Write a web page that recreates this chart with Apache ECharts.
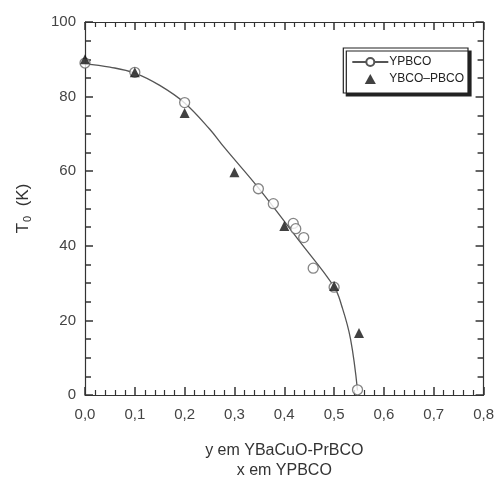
<!DOCTYPE html>
<html><head><meta charset="utf-8">
<script src="https://cdn.jsdelivr.net/npm/echarts@6/dist/echarts.min.js"></script>
<style>html,body{margin:0;padding:0;background:#fff}#c{width:497px;height:486px}</style>
</head><body><div id="c"></div>
<script>
// YPBCO measured points (x, T0)
const ypbcoX = [0, 0.1, 0.2, 0.348, 0.378, 0.418, 0.423, 0.439, 0.458, 0.5, 0.547];
const ypbcoT = [89.0, 86.5, 78.4, 55.3, 51.3, 46.0, 44.6, 42.2, 34.0, 28.9, 1.4];
// YBCO-PBCO points (y, T0)
const ybcoX = [0, 0.1, 0.2, 0.3, 0.4, 0.5, 0.55];
const ybcoT = [90.0, 86.5, 75.6, 59.7, 45.3, 29.2, 16.6];
// guide curve
const curveX = [0, 0.05, 0.1, 0.15, 0.2, 0.25, 0.28, 0.35, 0.43, 0.5, 0.515, 0.533, 0.547];
const curveT = [88.8, 87.9, 86.3, 83.0, 78.3, 71.3, 66.3, 55.2, 41.3, 29.0, 24.0, 15.0, 1.2];
const xTicks = ['0,0','0,1','0,2','0,3','0,4','0,5','0,6','0,7','0,8'];

const zip = (a, b) => a.map((v, i) => [v, b[i]]);
const chart = echarts.init(document.getElementById('c'));
const font = 'Liberation Sans, Arial, sans-serif';
const axisLineStyle = {onZero: false, lineStyle: {color: '#333', width: 1.2}};
const tick = {inside: true, length: 8, lineStyle: {color: '#333', width: 1.5}};
const xMinor = {show: true, splitNumber: 5, length: 5, lineStyle: {color: '#333', width: 1.2}};
const yMinor = {show: true, splitNumber: 4, length: 6, lineStyle: {color: '#333', width: 1.5}};
chart.setOption({
  animation: false,
  backgroundColor: '#fff',
  grid: {left: 85, top: 22, right: 10, bottom: 90},
  legend: {
    right: 29, top: 48, orient: 'vertical', itemGap: 5, itemWidth: 36, itemHeight: 10,
    padding: [8, 4, 8, 8], symbolKeepAspect: true,
    borderColor: '#222', borderWidth: 1.2, backgroundColor: '#fff',
    shadowColor: '#222', shadowBlur: 0, shadowOffsetX: 3, shadowOffsetY: 3,
    textStyle: {fontFamily: font, fontSize: 12, color: '#222', padding: [0, 0, 0, -4]},
    data: [{name: 'YPBCO'},
           {name: 'YBCO\u2013PBCO', icon: 'path://M5,0 L10,9 L0,9 Z'}]
  },
  xAxis: [{
    type: 'value', min: 0, max: 0.8, interval: 0.1,
    axisLine: axisLineStyle, axisTick: tick, minorTick: xMinor,
    splitLine: {show: false},
    axisLabel: {fontFamily: font, fontSize: 15, color: '#444', margin: 12,
      formatter: (v) => xTicks[Math.round(v * 10)]},
    name: 'y em YBaCuO-PrBCO\nx em YPBCO', nameLocation: 'middle', nameGap: 46,
    nameTextStyle: {fontFamily: font, fontSize: 16, color: '#333', lineHeight: 20}
  }, {
    type: 'value', position: 'top', min: 0, max: 0.8, interval: 0.1,
    axisLine: axisLineStyle, axisTick: tick, minorTick: xMinor,
    splitLine: {show: false}, axisLabel: {show: false}
  }],
  yAxis: [{
    type: 'value', min: 0, max: 100, interval: 20,
    axisLine: axisLineStyle, axisTick: tick, minorTick: yMinor,
    splitLine: {show: false},
    axisLabel: {fontFamily: font, fontSize: 15, color: '#444', margin: 9},
    name: '{a|T}{b|0}{a|  (K)}', nameLocation: 'middle', nameGap: 52, nameRotate: 90,
    nameTextStyle: {rich: {
      a: {fontFamily: font, fontSize: 17, color: '#333'},
      b: {fontFamily: font, fontSize: 11, color: '#333', padding: [8, 0, 0, 1]}
    }}
  }, {
    type: 'value', position: 'right', min: 0, max: 100, interval: 20,
    axisLine: axisLineStyle, axisTick: tick, minorTick: yMinor,
    splitLine: {show: false}, axisLabel: {show: false}
  }],
  series: [{
    name: 'YPBCO', type: 'line', smooth: 0.4, showSymbol: false, symbol: 'circle', symbolSize: 9,
    data: zip(curveX, curveT), lineStyle: {color: '#555', width: 1.3},
    itemStyle: {color: '#fff', borderColor: '#555', borderWidth: 1.2}, silent: true, z: 2
  }, {
    name: 'YPBCO', type: 'scatter', symbol: 'circle', symbolSize: 10,
    data: zip(ypbcoX, ypbcoT),
    itemStyle: {color: '#fff', borderColor: '#666', borderWidth: 1.3}, z: 3
  }, {
    name: 'YBCO\u2013PBCO', type: 'scatter', symbol: 'triangle', symbolSize: 10,
    data: zip(ybcoX, ybcoT),
    itemStyle: {color: '#111'}, z: 4
  }]
});
</script></body></html>
